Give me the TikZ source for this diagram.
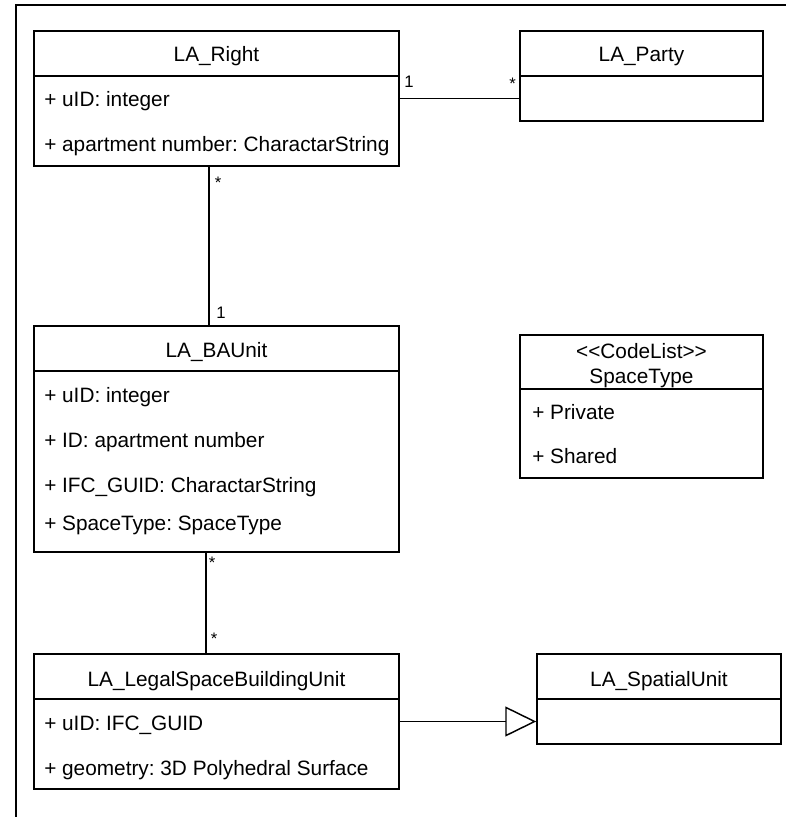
\documentclass[tikz,border=0pt]{standalone}
\usepackage{fontspec}
\setmainfont{Liberation Sans}
\usetikzlibrary{fit,arrows.meta}
\frenchspacing
\begin{document}
\begin{tikzpicture}[x=0.75pt,y=-0.75pt,
  box/.style={draw, line width=1.1pt, inner sep=0pt},
  divider/.style={line width=1.1pt},
  txt/.style={anchor=base west, inner sep=0pt, font=\fontsize{15.6}{18}\selectfont},
  ttl/.style={anchor=base, inner sep=0pt, font=\fontsize{15.6}{18}\selectfont},
  mult/.style={anchor=base west, inner sep=0pt, font=\fontsize{12.5}{14}\selectfont},
  conn/.style={line width=1.1pt},
  frame/.style={line width=1.5pt}]
\useasboundingbox (0,0) rectangle (786,817);
\draw[frame] (16,817) -- (16,5) -- (786,5);

% LA_Right
\node[box, fit={(34,31) (399,166)}] (right) {};
\draw[divider] (right.west |- 0,76) -- (right.east |- 0,76);
\node[ttl] (rightT) at (right.north |- 0,61.5) {LA\_Right};
\node[txt] (rightA1) at (44,106.7) {+ uID: integer};
\node[txt] (rightA2) at (44,151.7) {+ apartment number: CharactarString};

% LA_Party
\node[box, fit={(520,31) (763,121)}] (party) {};
\draw[divider] (party.west |- 0,76) -- (party.east |- 0,76);
\node[ttl] (partyT) at (party.north |- 0,62) {LA\_Party};

% LA_BAUnit
\node[box, fit={(34,326) (399,552)}] (ba) {};
\draw[divider] (ba.west |- 0,371) -- (ba.east |- 0,371);
\node[ttl] (baT) at (ba.north |- 0,357.7) {LA\_BAUnit};
\node[txt] (baA1) at (44,402.3) {+ uID: integer};
\node[txt] (baA2) at (44,447.3) {+ ID: apartment number};
\node[txt] (baA3) at (44,492.7) {+ IFC\_GUID: CharactarString};
\node[txt] (baA4) at (44,530) {+ SpaceType: SpaceType};

% SpaceType code list
\node[box, fit={(520,335) (763,478)}] (st) {};
\draw[divider] (st.west |- 0,389) -- (st.east |- 0,389);
\node[ttl] (stS) at (st.north |- 0,358.3) {<\kern0pt<CodeList>\kern0pt>};
\node[ttl] (stT) at (st.north |- 0,383.3) {SpaceType};
\node[txt] (stA1) at (532,419.3) {+ Private};
\node[txt] (stA2) at (532,463.3) {+ Shared};

% LA_LegalSpaceBuildingUnit
\node[box, fit={(34,654) (399,789)}] (legal) {};
\draw[divider] (legal.west |- 0,699) -- (legal.east |- 0,699);
\node[ttl] (legalT) at (legal.north |- 0,686) {LA\_LegalSpaceBuildingUnit};
\node[txt] (legalA1) at (44,730) {+ uID: IFC\_GUID};
\node[txt] (legalA2) at (44,775) {+ geometry: 3D Polyhedral Surface};

% LA_SpatialUnit
\node[box, fit={(537,654) (781,744)}] (spatial) {};
\draw[divider] (spatial.west |- 0,699) -- (spatial.east |- 0,699);
\node[ttl] (spatialT) at (spatial.north |- 0,686) {LA\_SpatialUnit};

% connectors
\draw[conn] (right.east) -- (right.east -| party.west);
\draw[conn] (right.south -| 209,0) -- (ba.north -| 209,0);
\draw[conn] (ba.south -| 206,0) -- (legal.north -| 206,0);
\draw[conn, -{Triangle[open, length=23.25pt, width=22.5pt, fill=white]}] (legal.east) -- (legal.east -| spatial.west);

% multiplicities
\node[mult] (m1) at (404,88) {1};
\node[mult] (m2) at (509,89.5) {*};
\node[mult] (m3) at (214.5,188) {*};
\node[mult] (m4) at (216,318) {1};
\node[mult] (m5) at (208.5,568) {*};
\node[mult] (m6) at (210.5,644) {*};
\end{tikzpicture}
\end{document}
